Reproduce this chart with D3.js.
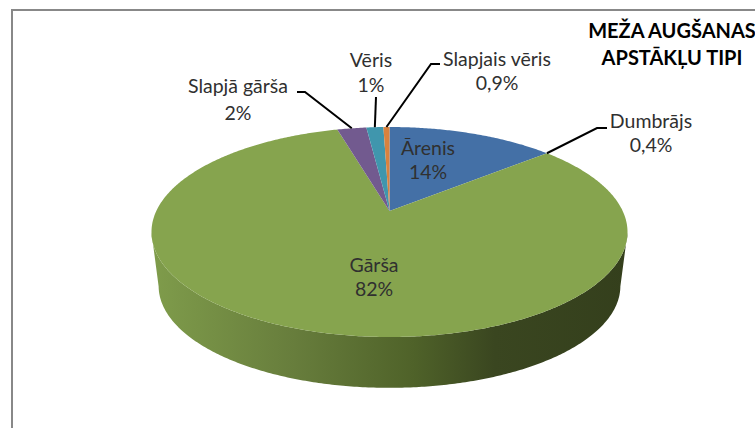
<!DOCTYPE html>
<html>
<head>
<meta charset="utf-8">
<script src="https://cdn.jsdelivr.net/npm/d3@7"></script>
<style>
  html, body { margin: 0; padding: 0; background: #fff; overflow: hidden; }
  text { font-family: Lato, "Open Sans", sans-serif; }
</style>
</head>
<body>
<svg id="chart" width="755" height="428"></svg>
<script>
var categories = ["Ārenis", "Dumbrājs", "Gārša", "Slapjā gārša", "Vēris", "Slapjais vēris"];
var shares = [13.8, 0, 81.9, 2.4, 1.4, 0.5];
var shareLabels = ["14%", "0,4%", "82%", "2%", "1%", "0,9%"];
var colors = ["#4470a6", "#a8504c", "#86a44e", "#725a8f", "#4096ad", "#d9823e"];
var titleLines = ["MEŽA AUGŠANAS", "APSTĀKĻU TIPI"];

// label layout: [centre x, first baseline, second baseline]
var labelPos = [[428, 155, 179], [651, 128, 152], [374, 272, 296], [238, 93, 120], [371, 67, 92], [497, 66, 90]];
// leader elbows, the last point comes from the pie itself
var leaderPos = [null, [[607, 128], [597, 128]], null, [[297, 92], [305, 92]], [[376, 97]], [[440, 64], [431, 64]]];

var svg = d3.select("#chart");

// tilted disc: perspective projection of the unit circle, apex sits above ellipse centre
var apexX = 389.5, apexY = 211, persp = 0.2, rimA = 100.8, rimK = 233.2;
var ellipseY = 232, lowerScale = 0.97, lowerDrop = 54;

function rimPoint(t) {
  var w = 1 + persp * Math.cos(t);
  return [apexX + rimK * Math.sin(t) / w, apexY - rimA * Math.cos(t) / w];
}
function lowerPoint(t) {
  var p = rimPoint(t);
  return [apexX + (p[0] - apexX) * lowerScale, ellipseY + (p[1] - ellipseY) * lowerScale + lowerDrop];
}
function arcAngles(d) {
  var a = d3.range(d.startAngle, d.endAngle, 0.01);
  a.push(d.endAngle);
  return a;
}

var pie = d3.pie().sort(null).value(function(d) { return d; });
var slices = pie(shares);
var line = d3.line();

// frame, only top and left show in the crop
svg.append("path")
  .attr("d", line([[12, 428], [12, 10], [755, 10]]))
  .attr("fill", "none")
  .attr("stroke", "#888888")
  .attr("stroke-width", 2);

var grad = svg.append("defs").append("linearGradient")
  .attr("id", "wall")
  .attr("gradientUnits", "userSpaceOnUse")
  .attr("x1", 152).attr("x2", 628).attr("y1", 0).attr("y2", 0);
grad.selectAll("stop")
  .data([[0, "#7f9c4b"], [0.3, "#677d3c"], [0.55, "#4f6229"], [0.72, "#3a4620"], [1, "#343f1c"]])
  .enter().append("stop")
  .attr("offset", function(d) { return d[0]; })
  .attr("stop-color", function(d) { return d[1]; });

// side wall, near half of the big slice between the widest points of the ellipse
var front = arcAngles(slices[2]).filter(function(t) { return rimPoint(t)[1] >= ellipseY; });
svg.append("path")
  .attr("d", line(front.map(rimPoint).concat(front.slice().reverse().map(lowerPoint))) + "Z")
  .attr("fill", "url(#wall)");

svg.append("g").selectAll("path")
  .data(slices)
  .enter()
  .append("path")
  .attr("d", function(d) {
    return line([[apexX, apexY]].concat(arcAngles(d).map(rimPoint))) + "Z";
  })
  .attr("fill", function(d, i) { return colors[i]; });

// leaders
slices.forEach(function(d, i) {
  if (!leaderPos[i]) return;
  svg.append("path")
    .attr("d", line(leaderPos[i].concat([rimPoint((d.startAngle + d.endAngle) / 2)])))
    .attr("fill", "none")
    .attr("stroke", "#000")
    .attr("stroke-width", 2);
});

// labels
var labels = svg.append("g")
  .attr("text-anchor", "middle")
  .attr("font-size", 19.5)
  .attr("fill", "#303030");
categories.forEach(function(c, i) {
  labels.append("text").attr("x", labelPos[i][0]).attr("y", labelPos[i][1]).text(c);
  labels.append("text").attr("x", labelPos[i][0]).attr("y", labelPos[i][2]).text(shareLabels[i]);
});

svg.append("g").selectAll("text")
  .data(titleLines)
  .enter()
  .append("text")
  .attr("x", 672)
  .attr("y", function(d, i) { return 38 + i * 27; })
  .attr("text-anchor", "middle")
  .attr("font-size", 20)
  .attr("font-weight", "bold")
  .attr("fill", "#000")
  .text(function(d) { return d; });
</script>
</body>
</html>
